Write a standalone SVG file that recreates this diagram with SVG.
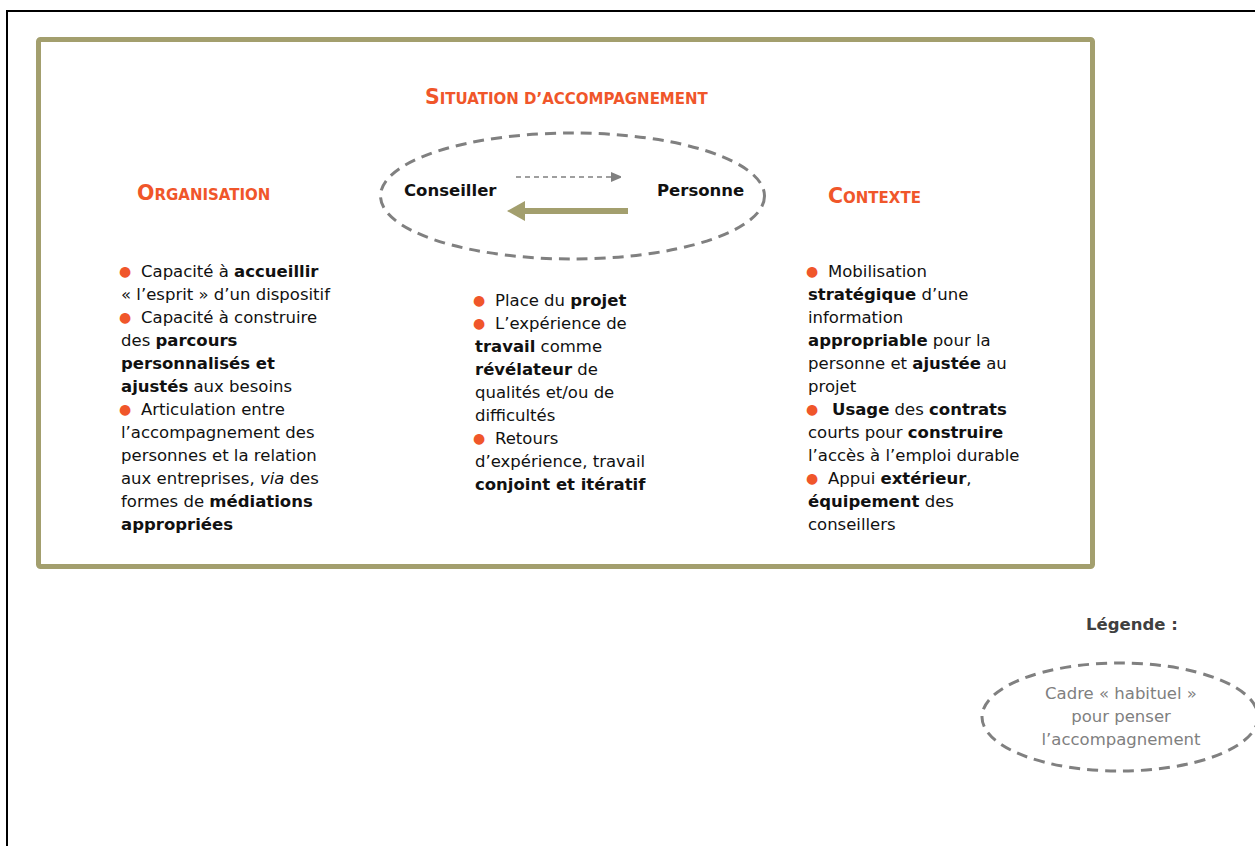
<svg xmlns="http://www.w3.org/2000/svg" width="1255" height="846" viewBox="0 0 1255 846">
<defs>
<style>
.t{font-family:"DejaVu Sans",sans-serif;font-size:16.5px;fill:#111}
.b{font-weight:bold}
.bul{fill:#F0562A;font-size:14px;baseline-shift:1px}
.h{font-family:"DejaVu Sans",sans-serif;font-weight:bold;fill:#F0562A;font-size:15px}
.hc{font-size:20.5px}
.g{fill:#808080}
.dash{fill:none;stroke:#808080;stroke-width:3;stroke-dasharray:11 7}
</style>
<marker id="ah1" markerWidth="10" markerHeight="10" refX="9" refY="5" orient="auto" markerUnits="userSpaceOnUse"><path d="M0,0 L12,5 L0,10 Z" fill="#808080"/></marker>
</defs>
<rect x="7" y="11" width="1260" height="850" fill="none" stroke="#000" stroke-width="2"/>
<rect x="38.5" y="39.5" width="1054" height="527" rx="2" fill="none" stroke="#A39F6E" stroke-width="5"/>

<g id="titre">
<text class="h" x="425" y="104"><tspan class="hc">S</tspan>ITUATION D’ACCOMPAGNEMENT</text>
</g>

<g id="situation">
<ellipse class="dash" cx="572.5" cy="196" rx="192" ry="63"/>
<text class="t b" x="404" y="196" font-size="18">Conseiller</text>
<text class="t b" x="657" y="196" font-size="18">Personne</text>
</g>

<g id="connecteurs">
<line x1="516" y1="177" x2="620" y2="177" stroke="#808080" stroke-width="1.5" stroke-dasharray="5 4" marker-end="url(#ah1)"/>
<line x1="628" y1="211" x2="522" y2="211" stroke="#A39F6E" stroke-width="6"/>
<path d="M507,211 L525,201 L525,221 Z" fill="#A39F6E"/>
</g>

<g id="organisation">
<text class="h" x="137" y="200"><tspan class="hc">O</tspan>RGANISATION</text>
<text class="t" x="119" y="277"><tspan class="bul">●</tspan><tspan x="141">Capacité à </tspan><tspan class="b">accueillir</tspan></text>
<text class="t" x="121" y="300">« l’esprit » d’un dispositif</text>
<text class="t" x="119" y="323"><tspan class="bul">●</tspan><tspan x="141">Capacité à construire</tspan></text>
<text class="t" x="121" y="346">des <tspan class="b">parcours</tspan></text>
<text class="t b" x="121" y="369">personnalisés et</text>
<text class="t" x="121" y="392"><tspan class="b">ajustés</tspan> aux besoins</text>
<text class="t" x="119" y="415"><tspan class="bul">●</tspan><tspan x="141">Articulation entre</tspan></text>
<text class="t" x="121" y="438">l’accompagnement des</text>
<text class="t" x="121" y="461">personnes et la relation</text>
<text class="t" x="121" y="484">aux entreprises, <tspan font-style="italic">via</tspan> des</text>
<text class="t" x="121" y="507">formes de <tspan class="b">médiations</tspan></text>
<text class="t b" x="121" y="530">appropriées</text>
</g>

<g id="centre">
<text class="t" x="473" y="306"><tspan class="bul">●</tspan><tspan x="495">Place du </tspan><tspan class="b">projet</tspan></text>
<text class="t" x="473" y="329"><tspan class="bul">●</tspan><tspan x="495">L’expérience de</tspan></text>
<text class="t" x="475" y="352"><tspan class="b">travail</tspan> comme</text>
<text class="t" x="475" y="375"><tspan class="b">révélateur</tspan> de</text>
<text class="t" x="475" y="398">qualités et/ou de</text>
<text class="t" x="475" y="421">difficultés</text>
<text class="t" x="473" y="444"><tspan class="bul">●</tspan><tspan x="495">Retours</tspan></text>
<text class="t" x="475" y="467">d’expérience, travail</text>
<text class="t b" x="475" y="490">conjoint et itératif</text>
</g>

<g id="contexte">
<text class="h" x="828" y="203"><tspan class="hc">C</tspan>ONTEXTE</text>
<text class="t" x="806" y="277"><tspan class="bul">●</tspan><tspan x="828">Mobilisation</tspan></text>
<text class="t" x="808" y="300"><tspan class="b">stratégique</tspan> d’une</text>
<text class="t" x="808" y="323">information</text>
<text class="t" x="808" y="346"><tspan class="b">appropriable</tspan> pour la</text>
<text class="t" x="808" y="369">personne et <tspan class="b">ajustée</tspan> au</text>
<text class="t" x="808" y="392">projet</text>
<text class="t" x="806" y="415"><tspan class="bul">●</tspan><tspan x="832" class="b">Usage</tspan> des <tspan class="b">contrats</tspan></text>
<text class="t" x="808" y="438">courts pour <tspan class="b">construire</tspan></text>
<text class="t" x="808" y="461">l’accès à l’emploi durable</text>
<text class="t" x="806" y="484"><tspan class="bul">●</tspan><tspan x="828">Appui </tspan><tspan class="b">extérieur</tspan>,</text>
<text class="t" x="808" y="507"><tspan class="b">équipement</tspan> des</text>
<text class="t" x="808" y="530">conseillers</text>
</g>

<g id="legende">
<text class="t b" x="1086" y="630" style="fill:#404040">Légende :</text>
<ellipse class="dash" cx="1120" cy="717" rx="138" ry="54"/>
<text class="t g" x="1121" y="699" text-anchor="middle">Cadre « habituel »</text>
<text class="t g" x="1121" y="722" text-anchor="middle">pour penser</text>
<text class="t g" x="1121" y="745" text-anchor="middle">l’accompagnement</text>
</g>
</svg>
